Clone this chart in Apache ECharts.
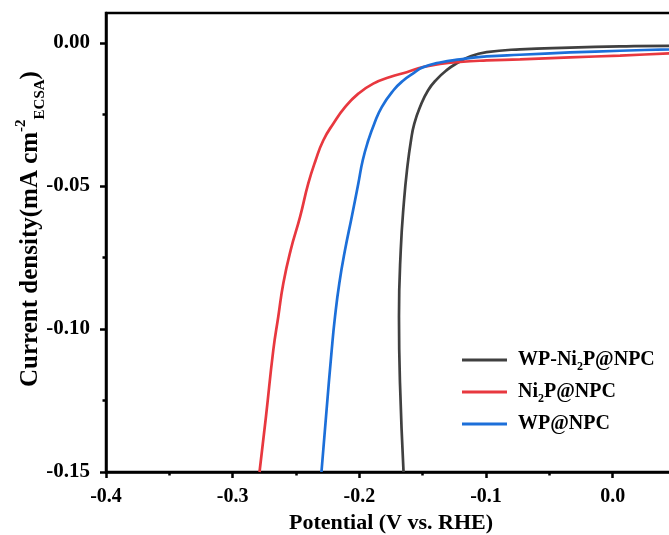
<!DOCTYPE html>
<html>
<head>
<meta charset="utf-8">
<title>Polarization curves</title>
<script src="https://cdn.jsdelivr.net/npm/echarts@6/dist/echarts.min.js"></script>
<style>
  html, body { margin: 0; padding: 0; background: #ffffff; }
  #chart { width: 669px; height: 535px; }
</style>
</head>
<body>
<div id="chart"></div>
<script>
// Potential (V vs. RHE) and current density for each catalyst
const seriesNames = ['WP-Ni2P@NPC', 'Ni2P@NPC', 'WP@NPC'];

const wpNi2pPotential = [-0.1651, -0.1679, -0.1687, -0.1673, -0.1647, -0.1621, -0.1592, -0.1566, -0.1521, -0.1458,
  -0.1387, -0.1308, -0.1231, -0.1126, -0.0995, -0.0732, -0.0337, 0.0058, 0.0445, 0.05];
const wpNi2pCurrent = [-0.150, -0.1190, -0.0957, -0.0724, -0.0550, -0.0434, -0.0340, -0.0282, -0.0224, -0.0166,
  -0.0126, -0.0094, -0.0071, -0.0047, -0.0032, -0.0022, -0.0016, -0.0012, -0.0010, -0.0010];

const ni2pPotential = [-0.2788, -0.2737, -0.2679, -0.2640, -0.2600, -0.2542, -0.2468, -0.2403, -0.2345, -0.2284,
  -0.2206, -0.2113, -0.2008, -0.1890, -0.1758, -0.1626, -0.1497, -0.1363, -0.1205, -0.0995,
  -0.0732, -0.0337, 0.0058, 0.0445, 0.05];
const ni2pCurrent = [-0.150, -0.1306, -0.1073, -0.0957, -0.0840, -0.0724, -0.0608, -0.0491, -0.0410, -0.0340,
  -0.0282, -0.0224, -0.0177, -0.0142, -0.0119, -0.0102, -0.0084, -0.0073, -0.0066, -0.0061,
  -0.0057, -0.0050, -0.0044, -0.0036, -0.0035];

const wpPotential = [-0.2299, -0.2263, -0.2218, -0.2192, -0.2158, -0.2113, -0.2060, -0.2008, -0.1973, -0.1929,
  -0.1882, -0.1823, -0.1732, -0.1653, -0.1561, -0.1505, -0.1363, -0.1205, -0.0995, -0.0732,
  -0.0337, 0.0058, 0.0445, 0.05];
const wpCurrent = [-0.150, -0.1306, -0.1073, -0.0957, -0.0840, -0.0724, -0.0608, -0.0491, -0.0410, -0.0340,
  -0.0282, -0.0224, -0.0166, -0.0131, -0.0102, -0.0086, -0.0068, -0.0057, -0.0047, -0.0041,
  -0.0033, -0.0027, -0.0022, -0.0021];

// Tick positions
const xTicks = [-0.4, -0.3, -0.2, -0.1, 0.0];
const xMinorTicks = [-0.35, -0.25, -0.15, -0.05];
const yTicks = [-0.15, -0.10, -0.05, 0.00];
const yMinorTicks = [-0.125, -0.075, -0.025];

const colors = ['#404040', '#e8383f', '#1c6fd9'];
const FONT = "'Liberation Serif', 'Times New Roman', serif";

function zip(a, b) { return a.map((v, i) => [v, b[i]]); }

const chart = echarts.init(document.getElementById('chart'), null, { renderer: 'canvas' });

const axisLineStyle = { color: '#000', width: 2.5 };

function legendLabel(name) {
  const i = name.indexOf('Ni2P');
  if (i < 0) return '{t|' + name + '}';
  const pre = name.slice(0, i) + 'Ni';
  const post = 'P' + name.slice(i + 4);
  return '{t|' + pre + '}{s|2}{t|' + post + '}';
}

function lineSeries(idx, xs, ys) {
  return {
    name: seriesNames[idx], type: 'line', xAxisIndex: 0, yAxisIndex: 0,
    data: zip(xs, ys),
    symbol: 'none', showSymbol: false,
    smooth: 0.5,
    lineStyle: { width: 2.7, color: colors[idx] },
    itemStyle: { color: colors[idx] }
  };
}

const option = {
  animation: false,
  backgroundColor: '#ffffff',
  color: colors,
  grid: {
    left: 106, top: 13, width: 570, height: 459,
    containLabel: false,
    outerBoundsMode: 'none',
    show: true, borderColor: '#000', borderWidth: 2.5, backgroundColor: 'transparent'
  },
  xAxis: [
    {
      type: 'value', min: -0.4, max: 0.05, position: 'bottom',
      splitLine: { show: false },
      axisLine: { show: true, onZero: false, lineStyle: axisLineStyle },
      name: 'Potential (V vs. RHE)',
      nameLocation: 'middle',
      nameGap: 40,
      nameTextStyle: { fontFamily: FONT, fontWeight: 'bold', fontSize: 22, color: '#000' },
      axisTick: { show: true, inside: false, length: 6, lineStyle: axisLineStyle, customValues: xTicks },
      axisLabel: {
        show: true, margin: 15, customValues: xTicks,
        fontFamily: FONT, fontWeight: 'bold', fontSize: 20, color: '#000',
        formatter: v => v.toFixed(1)
      }
    },
    {
      type: 'value', min: -0.4, max: 0.05, position: 'bottom',
      splitLine: { show: false },
      axisLine: { show: false, onZero: false },
      axisTick: { show: true, inside: false, length: 3.5, lineStyle: axisLineStyle, customValues: xMinorTicks },
      axisLabel: { show: false }
    }
  ],
  yAxis: [
    {
      type: 'value', min: -0.15, max: 0.0105, position: 'left',
      splitLine: { show: false },
      axisLine: { show: true, onZero: false, lineStyle: axisLineStyle },
      axisTick: { show: true, inside: false, length: 6, lineStyle: axisLineStyle, customValues: yTicks },
      axisLabel: {
        show: true, margin: 16, customValues: yTicks,
        fontFamily: FONT, fontWeight: 'bold', fontSize: 21, color: '#000',
        formatter: v => v.toFixed(2)
      }
    },
    {
      type: 'value', min: -0.15, max: 0.0105, position: 'left',
      splitLine: { show: false },
      axisLine: { show: false, onZero: false },
      axisTick: { show: true, inside: false, length: 3.5, lineStyle: axisLineStyle, customValues: yMinorTicks },
      axisLabel: { show: false }
    }
  ],
  legend: {
    orient: 'vertical',
    left: 462,
    top: 350,
    padding: 0,
    icon: 'rect',
    itemWidth: 45,
    itemHeight: 3,
    itemGap: 9,
    data: seriesNames,
    formatter: legendLabel,
    textStyle: {
      color: '#000',
      padding: [0, 0, 0, 6],
      rich: {
        t: { fontFamily: FONT, fontWeight: 'bold', fontSize: 20, color: '#000', lineHeight: 26 },
        s: { fontFamily: FONT, fontWeight: 'bold', fontSize: 12, color: '#000', lineHeight: 12, verticalAlign: 'bottom' }
      }
    }
  },
  graphic: [
    {
      type: 'text',
      x: 31, y: 229,
      rotation: Math.PI / 2,
      style: {
        text: '{m|Current density(mA cm}{sup|-2}{sub|ECSA}{m|)}',
        align: 'center',
        verticalAlign: 'middle',
        rich: {
          m: { fontFamily: FONT, fontWeight: 'bold', fontSize: 25, fill: '#000', lineHeight: 34 },
          sup: { fontFamily: FONT, fontWeight: 'bold', fontSize: 15, fill: '#000', lineHeight: 15, verticalAlign: 'top' },
          sub: { fontFamily: FONT, fontWeight: 'bold', fontSize: 15, fill: '#000', lineHeight: 15, verticalAlign: 'bottom' }
        }
      }
    }
  ],
  series: [
    lineSeries(0, wpNi2pPotential, wpNi2pCurrent),
    lineSeries(1, ni2pPotential, ni2pCurrent),
    lineSeries(2, wpPotential, wpCurrent)
  ]
};

chart.setOption(option);
</script>
</body>
</html>
